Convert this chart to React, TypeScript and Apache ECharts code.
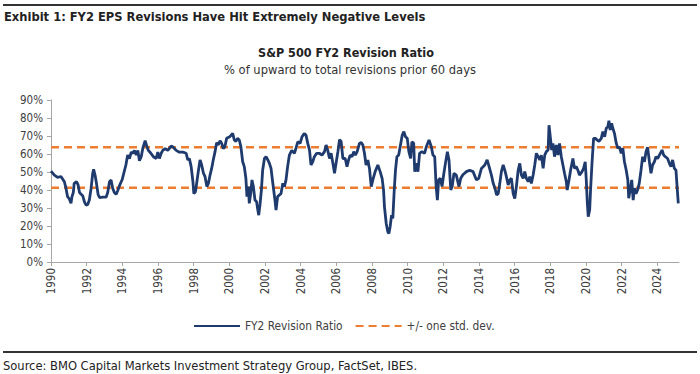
import React, { useEffect, useRef } from "react";
import * as echarts from "echarts";

const revisionYears = [
  1990.0, 1990.19, 1990.37, 1990.56, 1990.75, 1990.84, 1990.93, 1991.03, 1991.12, 1991.17, 1991.25, 1991.3, 1991.43, 1991.52, 1991.6, 1991.69, 1991.78, 1991.88, 1991.97,
  1992.06, 1992.15, 1992.25, 1992.34, 1992.39, 1992.47, 1992.55, 1992.64, 1992.73, 1992.9, 1993.09, 1993.18, 1993.28, 1993.37, 1993.46, 1993.55, 1993.65, 1993.74, 1993.84,
  1994.0, 1994.1, 1994.2, 1994.3, 1994.4, 1994.5, 1994.59, 1994.68, 1994.78, 1994.87, 1994.96, 1995.06, 1995.15, 1995.28, 1995.37, 1995.46, 1995.6, 1995.74, 1995.9, 1995.99,
  1996.08, 1996.18, 1996.27, 1996.4, 1996.55, 1996.74, 1996.83, 1997.02, 1997.2, 1997.4, 1997.58, 1997.67, 1997.76, 1997.86, 1997.96,
  1998.01, 1998.1, 1998.14, 1998.27, 1998.36, 1998.45, 1998.55, 1998.64, 1998.74, 1998.83, 1998.92, 1999.01, 1999.1, 1999.2, 1999.29, 1999.38, 1999.48, 1999.57, 1999.66, 1999.75, 1999.85,
  2000.03, 2000.19, 2000.28, 2000.37, 2000.46, 2000.56, 2000.65, 2000.75, 2000.84, 2000.93, 2000.99, 2001.07, 2001.12, 2001.2, 2001.27, 2001.35, 2001.44, 2001.53, 2001.6, 2001.65, 2001.72, 2001.8, 2001.87, 2001.97,
  2002.06, 2002.16, 2002.25, 2002.34, 2002.43, 2002.56, 2002.62, 2002.71, 2002.81, 2002.9, 2003.0, 2003.09, 2003.18, 2003.27, 2003.37, 2003.5, 2003.65, 2003.74, 2003.84, 2003.97,
  2004.08, 2004.2, 2004.3, 2004.4, 2004.5, 2004.58, 2004.68, 2004.77, 2004.9, 2005.05, 2005.2, 2005.34, 2005.43, 2005.52, 2005.62, 2005.71, 2005.84, 2005.9,
  2006.0, 2006.09, 2006.18, 2006.27, 2006.37, 2006.5, 2006.6, 2006.69, 2006.78, 2006.88, 2006.98, 2007.07, 2007.17, 2007.3, 2007.4, 2007.49, 2007.58, 2007.67, 2007.77, 2007.86, 2007.96,
  2008.05, 2008.18, 2008.33, 2008.46, 2008.57, 2008.65, 2008.7, 2008.8, 2008.89, 2008.95, 2009.02, 2009.1, 2009.17, 2009.25, 2009.32, 2009.4, 2009.5, 2009.6, 2009.7, 2009.79, 2009.88, 2009.98,
  2010.07, 2010.17, 2010.24, 2010.34, 2010.4, 2010.49, 2010.58, 2010.67, 2010.8, 2010.95, 2011.05, 2011.2, 2011.33, 2011.42, 2011.52, 2011.6, 2011.67, 2011.74, 2011.83, 2011.93,
  2012.02, 2012.12, 2012.23, 2012.32, 2012.42, 2012.5, 2012.6, 2012.73, 2012.88, 2012.98, 2013.1, 2013.3, 2013.48, 2013.67, 2013.86, 2013.99,
  2014.14, 2014.33, 2014.46, 2014.57, 2014.7, 2014.8, 2014.9, 2014.99, 2015.08, 2015.17, 2015.26, 2015.36, 2015.45, 2015.54, 2015.64, 2015.73, 2015.82, 2015.92,
  2016.01, 2016.1, 2016.2, 2016.29, 2016.38, 2016.48, 2016.57, 2016.66, 2016.76, 2016.85, 2016.94, 2017.04, 2017.13, 2017.22, 2017.32, 2017.41, 2017.5, 2017.6, 2017.69, 2017.78, 2017.88, 2017.93,
  2018.0, 2018.08, 2018.15, 2018.24, 2018.34, 2018.43, 2018.52, 2018.62, 2018.71, 2018.8, 2018.9, 2018.95, 2019.05, 2019.14, 2019.27, 2019.36, 2019.46, 2019.55, 2019.64, 2019.78, 2019.87, 2019.96,
  2020.02, 2020.08, 2020.13, 2020.21, 2020.26, 2020.34, 2020.43, 2020.53, 2020.62, 2020.73, 2020.86, 2020.95, 2021.05, 2021.14, 2021.23, 2021.29, 2021.36, 2021.44, 2021.51, 2021.6, 2021.7, 2021.79, 2021.88, 2021.98,
  2022.07, 2022.16, 2022.26, 2022.35, 2022.4, 2022.48, 2022.57, 2022.65, 2022.72, 2022.81, 2022.9, 2022.99, 2023.09, 2023.18, 2023.28, 2023.37, 2023.46, 2023.56, 2023.65, 2023.74, 2023.84, 2023.93,
  2024.02, 2024.12, 2024.27, 2024.36, 2024.45, 2024.58, 2024.68, 2024.77, 2024.86, 2024.96, 2025.05, 2025.1, 2025.18,
];

const revisionRatio = [
  50.5, 48.3, 47, 47.5, 44.6, 41, 36.3, 35, 32.6, 36, 38.6, 43.7, 44.6, 42.8, 38.6, 37.6, 36.8, 33.3, 31.6,
  32, 34.4, 41, 49.3, 51.5, 48.3, 43.7, 37.6, 35.8, 36, 36, 38.6, 44.6, 45.5, 41, 38.6, 37.6, 39.6, 42.4,
  46, 50, 53.9, 59.4, 57.5, 61, 60.4, 62, 59.4, 62, 56.3, 58.5, 63.2, 67.4, 64.4, 62, 60.4, 58.5, 57.5, 61,
  57.5, 60.4, 62, 63, 62, 64.4, 64, 62, 61, 61, 60.4, 56.7, 57.5, 53, 44.6,
  38, 39, 41.6, 50.9, 56.7, 53.9, 49.3, 47.4, 41.9, 43.7, 48.3, 52, 56.7, 61.3, 66.3, 65, 67.4, 66, 63, 64, 68.7,
  69.6, 71.5, 67.8, 67, 68.7, 67.8, 64, 55.7, 53, 46.5, 36.3, 41.9, 32.6, 38, 45.6, 41.9, 34.4, 33.5, 28.9, 26, 31.7, 40, 51, 57.5,
  58.5, 56.7, 54.8, 52, 44.6, 34.4, 28.9, 36.3, 37.2, 38, 43.7, 41.9, 45.6, 53, 59.4, 62, 60.4, 63.2, 66.8, 65.9,
  69.6, 71.4, 70.5, 65.9, 62, 53.9, 55.7, 58.5, 60.4, 60.4, 59.4, 61.3, 65, 62, 57.5, 60.4, 53, 49.3,
  55.7, 61.3, 68, 67, 57.5, 57.5, 53, 56.7, 59.4, 58.5, 61.3, 59.4, 61.3, 65.9, 66.4, 65, 60.4, 53.9, 56.7, 52, 41.9,
  45.6, 50.2, 53.9, 50.2, 46.5, 40, 30.8, 21.4, 16.8, 15.8, 19.6, 26, 24.2, 40, 51, 58.5, 59.4, 65, 70.5, 72.4, 69.6, 68.7,
  61.3, 57.5, 66.8, 65.9, 50.2, 54.8, 50.2, 60.4, 61.3, 60.4, 64, 67.8, 64, 59.4, 58.5, 41.9, 34.4, 45.6, 46.5, 41.9,
  48.3, 54.8, 61.3, 56.7, 40, 41.9, 49.3, 48.3, 41.9, 46.5, 48.5, 50.2, 51, 50.2, 45.6, 46.5,
  52, 53.9, 56.7, 53, 48.3, 43.7, 41, 37.2, 38, 43.7, 50.2, 53.9, 51, 47.4, 42.8, 45.6, 46.5, 38,
  35.3, 41.9, 51, 54.8, 48.3, 46.5, 50.2, 46.5, 44.6, 47.4, 43.7, 48.3, 53.9, 60.4, 58.5, 56.7, 59.4, 52, 59.4, 61.3, 62.2, 76,
  69.6, 62.2, 65.9, 58.5, 65, 59.4, 65.9, 58.5, 53.9, 49.3, 44.6, 40, 45.6, 51, 57.5, 52, 53, 51, 48.3, 50.2, 52, 55.7,
  45.6, 32.6, 25.2, 28.9, 40, 54.8, 68.7, 68.7, 67.8, 67, 68.7, 72.4, 69.6, 74.3, 75.2, 78.5, 73.3, 77, 74.3, 71.5, 66, 63.2, 64, 60.4,
  63.2, 55.7, 51, 45.6, 35.4, 40, 45.6, 34.4, 41, 38, 40, 43.7, 51, 58.5, 55.7, 61.3, 63.7, 55.7, 49.3, 53.9, 55.7, 58.5,
  57.5, 59.4, 62.2, 59.4, 58.5, 57.5, 54.8, 53, 56.7, 52, 51, 43.7, 32.6,
];

const upperBand = 63.7;
const lowerBand = 41.3;
const xStart = 1990;
const xEnd = 2025.22;
const yearTicks = [1990, 1992, 1994, 1996, 1998, 2000, 2002, 2004, 2006, 2008, 2010, 2012, 2014, 2016, 2018, 2020, 2022, 2024];

const FONT = "'DejaVu Sans Condensed', 'Liberation Sans Narrow', 'DejaVu Sans', sans-serif";

export default function App() {
  const ref = useRef<HTMLDivElement>(null);
  useEffect(() => {
    if (!ref.current) return;
    const chart = echarts.init(ref.current, null, { renderer: "svg" });
    const lineData = revisionYears.map((y, i) => [y, revisionRatio[i]]);
    chart.setOption({
      animation: false,
      backgroundColor: "#ffffff",
      textStyle: { fontFamily: FONT },
      grid: { left: 51, right: 21, top: 100, bottom: 112, containLabel: false, outerBoundsMode: "none" },
      xAxis: {
        type: "value",
        min: xStart,
        max: xEnd,
        interval: 2,
        splitLine: { show: false },
        axisLine: { lineStyle: { color: "#a6a6a6", width: 1 } },
        axisTick: { show: true, customValues: yearTicks, length: 4, lineStyle: { color: "#a6a6a6" } },
        axisLabel: {
          customValues: yearTicks,
          rotate: 90,
          color: "#404040",
          fontSize: 11.5,
          fontFamily: FONT,
          margin: 6,
          formatter: (v: number) => String(Math.round(v)),
        },
      },
      yAxis: {
        type: "value",
        min: 0,
        max: 90,
        interval: 10,
        splitLine: { show: false },
        axisLine: { show: true, lineStyle: { color: "#a6a6a6", width: 1 } },
        axisTick: { show: true, length: 4, lineStyle: { color: "#a6a6a6" } },
        axisLabel: { formatter: "{value}%", color: "#404040", fontSize: 11.5, fontFamily: FONT, margin: 8 },
      },
      legend: {
        left: 188,
        top: 315,
        itemWidth: 46,
        itemHeight: 3,
        itemGap: 12,
        itemStyle: { color: "rgba(0,0,0,0)", opacity: 0, borderWidth: 0 },
        textStyle: { color: "#404040", fontSize: 11.8, fontFamily: FONT },
        data: ["FY2 Revision Ratio", "+/- one std. dev."],
      },
      series: [
        {
          name: "+/- one std. dev.",
          type: "line",
          symbol: "none",
          data: [[xStart, upperBand], [xEnd, upperBand]],
          lineStyle: { color: "#ED7D31", width: 2.5, type: [8, 5] },
          itemStyle: { color: "#ED7D31" },
          z: 2,
        },
        {
          name: "+/- one std. dev.",
          type: "line",
          symbol: "none",
          data: [[xStart, lowerBand], [xEnd, lowerBand]],
          lineStyle: { color: "#ED7D31", width: 2.5, type: [8, 5] },
          itemStyle: { color: "#ED7D31" },
          z: 2,
        },
        {
          name: "FY2 Revision Ratio",
          type: "line",
          symbol: "none",
          data: lineData,
          lineStyle: { color: "#1F3B6E", width: 2.8 },
          itemStyle: { color: "#1F3B6E" },
          z: 3,
        },
      ],
      graphic: [
        { type: "line", shape: { x1: 3, y1: 5, x2: 697, y2: 5 }, style: { stroke: "#333333", lineWidth: 2 } },
        {
          type: "text",
          x: 4,
          y: 16,
          style: { text: "Exhibit 1: FY2 EPS Revisions Have Hit Extremely Negative Levels", font: `bold 12.8px ${FONT}`, fill: "#222222", textVerticalAlign: "middle" },
        },
        {
          type: "text",
          x: 346,
          y: 52,
          style: { text: "S&P 500 FY2 Revision Ratio", font: `bold 12.5px ${FONT}`, fill: "#222222", textAlign: "center", textVerticalAlign: "middle" },
        },
        {
          type: "text",
          x: 350,
          y: 69,
          style: { text: "% of upward to total revisions prior 60 days", font: `12.8px ${FONT}`, fill: "#333333", textAlign: "center", textVerticalAlign: "middle" },
        },
        { type: "line", shape: { x1: 3, y1: 352, x2: 697, y2: 352 }, style: { stroke: "#333333", lineWidth: 2 } },
        {
          type: "text",
          x: 3,
          y: 365,
          style: { text: "Source: BMO Capital Markets Investment Strategy Group, FactSet, IBES.", font: `12.8px ${FONT}`, fill: "#222222", textVerticalAlign: "middle" },
        },
      ],
    });
    return () => chart.dispose();
  }, []);
  return (
    <div
      ref={ref}
      style={{ position: "fixed", left: 0, top: 0, width: 700, height: 374, background: "#fff" }}
    />
  );
}
